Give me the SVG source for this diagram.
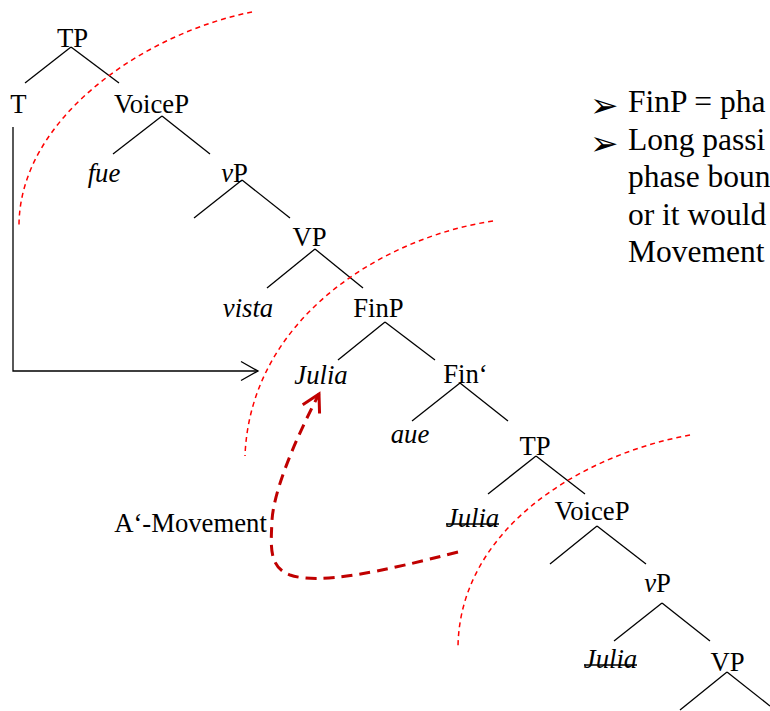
<svg xmlns="http://www.w3.org/2000/svg" width="770" height="711" viewBox="0 0 770 711">
<style>
.t{font-family:"Liberation Serif","Times New Roman",serif;font-size:26.7px;fill:#000;text-anchor:middle}
.i{font-style:italic}
.r{font-family:"Liberation Serif","Times New Roman",serif;font-size:31.5px;fill:#000}
.b{font-family:"DejaVu Sans",sans-serif;font-size:34px;fill:#000}
.e{stroke:#000;stroke-width:1.3;fill:none}
.s{stroke:#000;stroke-width:1.5}
.ph{stroke:#ff0000;stroke-width:1.5;fill:none;stroke-dasharray:5 4}
.mv{stroke:#c00000;stroke-width:3;fill:none;stroke-dasharray:11 7}
</style>
<defs>
<marker id="open" markerUnits="userSpaceOnUse" markerWidth="20" markerHeight="22" refX="17" refY="10" orient="auto" viewBox="-1 -1 20 22">
<path d="M0,0.5 L17,10 L0,19.5" fill="none" stroke="#000" stroke-width="1.3"/>
</marker>
<marker id="redopen" markerUnits="userSpaceOnUse" markerWidth="22" markerHeight="24" refX="17" refY="10" orient="auto" viewBox="-2 -2 22 24">
<path d="M0,0.5 L17,10 L0,19.5" fill="none" stroke="#c00000" stroke-width="3"/>
</marker>
</defs>

<g id="edges">
<line class="e" x1="71" y1="47" x2="25" y2="83"/>
<line class="e" x1="71" y1="47" x2="119" y2="83"/>
<line class="e" x1="162" y1="116" x2="113" y2="154"/>
<line class="e" x1="162" y1="116" x2="210" y2="154"/>
<line class="e" x1="242" y1="180" x2="194" y2="218"/>
<line class="e" x1="242" y1="180" x2="290" y2="218"/>
<line class="e" x1="315" y1="249" x2="267" y2="288"/>
<line class="e" x1="315" y1="249" x2="363" y2="288"/>
<line class="e" x1="385" y1="322" x2="338" y2="360"/>
<line class="e" x1="385" y1="322" x2="435" y2="360"/>
<line class="e" x1="460" y1="383" x2="412" y2="421"/>
<line class="e" x1="460" y1="383" x2="508" y2="421"/>
<line class="e" x1="536" y1="456" x2="488" y2="494"/>
<line class="e" x1="536" y1="456" x2="585" y2="494"/>
<line class="e" x1="597" y1="526" x2="550" y2="564"/>
<line class="e" x1="597" y1="526" x2="646" y2="564"/>
<line class="e" x1="662" y1="603" x2="614" y2="641"/>
<line class="e" x1="662" y1="603" x2="710" y2="641"/>
<line class="e" x1="727" y1="672" x2="680" y2="710"/>
<line class="e" x1="727" y1="672" x2="770" y2="706"/>
<path class="e" d="M13,127 L13,371 L258,371" marker-end="url(#open)"/>
<path class="mv" d="M458,552 C380,572 320,585 290,575 C268,567 271,545 272,520 C274,490 295,440 319,394" marker-end="url(#redopen)"/>
</g>

<g id="phases">
<path class="ph" d="M252,12 C145,33 19,118 19,226"/>
<path class="ph" d="M493,221 C380,238 250,320 245,456"/>
<path class="ph" d="M690,435 C580,455 458,530 458,649"/>
</g>

<g id="n-tp1"><text class="t" x="72.5" y="47">TP</text></g>
<g id="n-t"><text class="t" x="18.5" y="113">T</text></g>
<g id="n-voicep1"><text class="t" x="151.5" y="113">VoiceP</text></g>
<g id="n-fue"><text class="t i" x="104" y="182">fue</text></g>
<g id="n-vp1"><text class="t" x="234.5" y="182"><tspan class="i">v</tspan>P</text></g>
<g id="n-vvp1"><text class="t" x="309.5" y="246">VP</text></g>
<g id="n-vista"><text class="t i" x="248" y="317">vista</text></g>
<g id="n-finp"><text class="t" x="378.5" y="317">FinP</text></g>
<g id="n-julia1"><text class="t i" x="321" y="384">Julia</text></g>
<g id="n-finbar"><text class="t" x="465.5" y="383">Fin‘</text></g>
<g id="n-aue"><text class="t i" x="410" y="443">aue</text></g>
<g id="n-tp2"><text class="t" x="535" y="455">TP</text></g>
<g id="n-julia2"><text class="t i" x="472.5" y="527">Julia</text><line class="s" x1="446" y1="524" x2="499" y2="524"/></g>
<g id="n-voicep2"><text class="t" x="592" y="520">VoiceP</text></g>
<g id="n-vp2"><text class="t" x="657.5" y="592"><tspan class="i">v</tspan>P</text></g>
<g id="n-julia3"><text class="t i" x="610.5" y="668">Julia</text><line class="s" x1="584" y1="665" x2="637" y2="665"/></g>
<g id="n-vvp2"><text class="t" x="727.5" y="671">VP</text></g>
<g id="n-label"><text class="t" x="190.5" y="532">A‘-Movement</text></g>

<g id="notes">
<text class="b" x="590" y="117">➢</text>
<text class="b" x="590" y="154.5">➢</text>
<text class="r" x="628" y="112">FinP = pha</text>
<text class="r" x="628" y="149.5">Long passi</text>
<text class="r" x="628" y="187">phase boun</text>
<text class="r" x="628" y="224.5">or it would</text>
<text class="r" x="628" y="262">Movement</text>
</g>
</svg>
